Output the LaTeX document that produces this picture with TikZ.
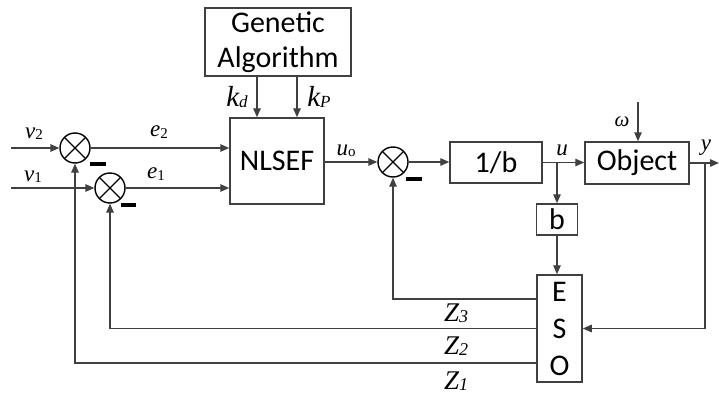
\documentclass[tikz,border=0pt]{standalone}
\usepackage{fontspec}
\setmainfont{Carlito}
\newfontfamily\serif{Liberation Serif}
\usetikzlibrary{arrows.meta}
\definecolor{ln}{HTML}{404040}
\newcommand\lbl[4]{{\serif\fontsize{#1}{#1}\selectfont\itshape #2}\raisebox{-0.12em}{\serif\fontsize{#3}{#3}\selectfont #4}}
\begin{document}
\begin{tikzpicture}[x=1pt,y=-1pt,
  blk/.style={draw=ln,line width=1.5pt,inner sep=0pt,font=\fontsize{30}{35}\selectfont},
  sumc/.style={circle,draw=black,line width=1.4pt,minimum size=30pt,inner sep=0pt,
    path picture={\draw[black,line width=1.4pt] (path picture bounding box.north west) -- (path picture bounding box.south east)
      (path picture bounding box.north east) -- (path picture bounding box.south west);}},
  sig/.style={draw=ln,line width=1.4pt,-{Triangle[length=9pt,width=7.5pt]}},
  lab/.style={inner sep=0pt}]
\useasboundingbox (0,0) rectangle (719,396);
% blocks
\node[blk,minimum width=146pt,minimum height=68pt,align=center] (ga) at (278,42) {Genetic\\Algorithm};
\node[blk,minimum width=94pt,minimum height=86pt] (nl) at (277,161) {NLSEF};
\node[blk,minimum width=92pt,minimum height=41pt] (ib) at (496,162.5) {1/b};
\node[blk,minimum width=104pt,minimum height=42pt] (obj) at (637,163) {Object};
\node[blk,minimum width=41pt,minimum height=31pt] (b) at (557,219.5) {b};
\node[blk,minimum width=45pt,minimum height=107pt] (eso) at (559.5,328.5) {};
\node[lab,font=\fontsize{30}{30}\selectfont] (le) at (559.5,292) {E};
\node[lab,font=\fontsize{30}{30}\selectfont] (ls) at (559.5,329) {S};
\node[lab,font=\fontsize{30}{30}\selectfont] (lo) at (559.5,366) {O};
% summing junctions
\node[sumc] (s1) at (75,148) {};
\node[sumc] (s2) at (110,188) {};
\node[sumc] (s3) at (393,162) {};
% minus bars
\fill[black] (90,162) rectangle (106,166);
\fill[black] (121,202.5) rectangle (136,206.5);
\fill[black] (406,177) rectangle (422,181);
% coordinates
\coordinate (v2in) at (11,148);
\coordinate (v1in) at (11,188);
\coordinate (kdx) at (257,100);
\coordinate (kpx) at (297,100);
\coordinate (uj) at (557,162.5);
\coordinate (wtop) at (638,102);
\coordinate (yend) at (719,163);
\coordinate (yj) at (705,163);
\coordinate (z3y) at (0,299);
\coordinate (z2y) at (0,328.5);
\coordinate (z1y) at (0,363);
% connectors
\draw[sig] (v2in) -- (s1);
\draw[sig] (v1in) -- (s2);
\draw[sig] (s1) -- (s1 -| nl.west);
\draw[sig] (s2) -- (s2 -| nl.west);
\draw[sig] (kdx |- ga.south) -- (kdx |- nl.north);
\draw[sig] (kpx |- ga.south) -- (kpx |- nl.north);
\draw[sig] (nl.east |- s3) -- (s3);
\draw[sig] (s3) -- (s3 -| ib.west);
\draw[sig] (ib.east) -- (ib.east -| obj.west);
\draw[sig] (uj) -- (b.north);
\draw[sig] (b.south) -- (b.south |- eso.north);
\draw[sig] (wtop) -- (wtop |- obj.north);
\draw[sig] (obj.east) -- (yend);
\draw[sig] (yj) |- (eso.east);
\draw[sig] (eso.west |- z3y) -| (s3.south);
\draw[sig] (eso.west |- z2y) -| (s2.south);
\draw[sig] (eso.west |- z1y) -| (s1.south);
% labels
\node[lab] (lkd) at (237,97) {\lbl{29}{k}{17}{\itshape d}};
\node[lab] (lkp) at (319,97) {\lbl{29}{k}{17}{\itshape P}};
\node[lab] (luo) at (346,151) {\lbl{23}{u}{15}{o}};
\node[lab] (lv2) at (34,134) {\lbl{23}{v}{15}{2}};
\node[lab] (le2) at (159,132) {\lbl{23}{e}{15}{2}};
\node[lab] (lv1) at (33,177) {\lbl{23}{v}{15}{1}};
\node[lab] (le1) at (156,174) {\lbl{23}{e}{15}{1}};
\node[lab] (lu) at (562,151) {\lbl{23}{u}{15}{}};
\node[lab] (ly) at (706,148) {\lbl{23}{y}{15}{}};
\node[lab] (lw) at (622,122) {{\serif\fontsize{21}{21}\selectfont\textit{ω}}};
\node[lab] (lz3) at (456,313) {\lbl{27}{Z}{18}{\itshape 3}};
\node[lab] (lz2) at (456,346) {\lbl{27}{Z}{18}{\itshape 2}};
\node[lab] (lz1) at (456,381) {\lbl{27}{Z}{18}{\itshape 1}};
\end{tikzpicture}
\end{document}
